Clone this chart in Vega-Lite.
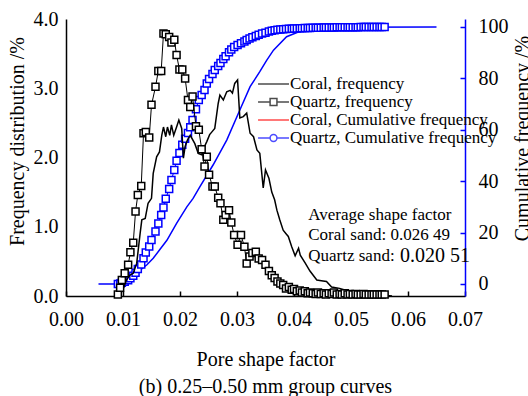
{
  "$schema": "https://vega.github.io/schema/vega-lite/v6.json",
  "width": 399,
  "height": 277,
  "autosize": {"type": "none"},
  "padding": {"left": 66, "top": 19, "right": 63, "bottom": 100},
  "background": "white",
  "config": {
    "view": {"stroke": null},
    "font": "Liberation Serif",
    "axis": {
      "labelFont": "Liberation Serif",
      "labelFontSize": 20,
      "labelColor": "black",
      "titleFont": "Liberation Serif",
      "titleFontSize": 20,
      "titleFontWeight": "normal",
      "titleColor": "black",
      "grid": false,
      "domainWidth": 1.5,
      "tickWidth": 1.5,
      "labelFlush": false,
      "labelOverlap": false
    },
    "text": {"font": "Liberation Serif"}
  },
  "title": {
    "text": "(b) 0.25–0.50 mm group curves",
    "orient": "bottom",
    "font": "Liberation Serif",
    "fontSize": 20,
    "fontWeight": "normal",
    "color": "black",
    "anchor": "middle",
    "offset": 8
  },
  "datasets": {
    "coral_freq": [
      {"factor": 0.0092, "value": 0.0}, {"factor": 0.0097, "value": 0.05}, {"factor": 0.0101, "value": 0.12},
      {"factor": 0.0106, "value": 0.23}, {"factor": 0.0112, "value": 0.30}, {"factor": 0.0118, "value": 0.33},
      {"factor": 0.0124, "value": 0.47}, {"factor": 0.0130, "value": 0.90}, {"factor": 0.0133, "value": 1.10},
      {"factor": 0.0139, "value": 1.12}, {"factor": 0.0144, "value": 1.34}, {"factor": 0.0150, "value": 1.41},
      {"factor": 0.0153, "value": 1.77}, {"factor": 0.0159, "value": 2.01}, {"factor": 0.0164, "value": 2.08},
      {"factor": 0.0168, "value": 2.32}, {"factor": 0.0171, "value": 2.44}, {"factor": 0.0175, "value": 2.30},
      {"factor": 0.0178, "value": 2.44}, {"factor": 0.0182, "value": 2.32}, {"factor": 0.0185, "value": 2.47},
      {"factor": 0.0189, "value": 2.32}, {"factor": 0.0194, "value": 2.44}, {"factor": 0.0198, "value": 2.54},
      {"factor": 0.0203, "value": 2.42}, {"factor": 0.0206, "value": 1.99}, {"factor": 0.0209, "value": 2.16},
      {"factor": 0.0213, "value": 2.25}, {"factor": 0.0218, "value": 2.32}, {"factor": 0.0226, "value": 2.20},
      {"factor": 0.0232, "value": 2.06}, {"factor": 0.0238, "value": 2.04}, {"factor": 0.0243, "value": 2.16},
      {"factor": 0.0247, "value": 2.23}, {"factor": 0.0252, "value": 2.33}, {"factor": 0.0256, "value": 2.37},
      {"factor": 0.0261, "value": 2.42}, {"factor": 0.0267, "value": 2.78}, {"factor": 0.0270, "value": 2.90},
      {"factor": 0.0276, "value": 2.83}, {"factor": 0.0282, "value": 2.95}, {"factor": 0.0288, "value": 2.97},
      {"factor": 0.0292, "value": 2.93}, {"factor": 0.0296, "value": 3.07}, {"factor": 0.0301, "value": 3.12},
      {"factor": 0.0305, "value": 2.57}, {"factor": 0.0311, "value": 2.59}, {"factor": 0.0317, "value": 2.64},
      {"factor": 0.0323, "value": 2.35}, {"factor": 0.0329, "value": 2.30}, {"factor": 0.0335, "value": 2.11},
      {"factor": 0.0340, "value": 2.06}, {"factor": 0.0346, "value": 1.56}, {"factor": 0.0350, "value": 1.82},
      {"factor": 0.0356, "value": 1.70}, {"factor": 0.0361, "value": 1.50}, {"factor": 0.0366, "value": 1.39},
      {"factor": 0.0370, "value": 1.24}, {"factor": 0.0375, "value": 1.10}, {"factor": 0.0381, "value": 0.95},
      {"factor": 0.0386, "value": 0.90}, {"factor": 0.0390, "value": 0.86}, {"factor": 0.0396, "value": 0.71},
      {"factor": 0.0402, "value": 0.58}, {"factor": 0.0408, "value": 0.69}, {"factor": 0.0411, "value": 0.59},
      {"factor": 0.0420, "value": 0.47}, {"factor": 0.0428, "value": 0.36}, {"factor": 0.0440, "value": 0.23},
      {"factor": 0.0448, "value": 0.22}, {"factor": 0.0457, "value": 0.21}, {"factor": 0.0466, "value": 0.13},
      {"factor": 0.0480, "value": 0.11}, {"factor": 0.0492, "value": 0.08}, {"factor": 0.0505, "value": 0.06},
      {"factor": 0.0516, "value": 0.05}, {"factor": 0.0534, "value": 0.03}, {"factor": 0.0555, "value": 0.015},
      {"factor": 0.0572, "value": 0.0}
    ],
    "coral_cum": [
      {"factor": 0.0057, "value": 0}, {"factor": 0.0086, "value": 0}, {"factor": 0.0095, "value": 0.8},
      {"factor": 0.0106, "value": 2.2}, {"factor": 0.0118, "value": 3.8}, {"factor": 0.0130, "value": 5.4},
      {"factor": 0.0142, "value": 7.5}, {"factor": 0.0153, "value": 10.0}, {"factor": 0.0165, "value": 13.5},
      {"factor": 0.0177, "value": 17.0}, {"factor": 0.0194, "value": 23.6}, {"factor": 0.0212, "value": 30.0},
      {"factor": 0.0223, "value": 33.3}, {"factor": 0.0235, "value": 37.9}, {"factor": 0.0258, "value": 46.3},
      {"factor": 0.0282, "value": 56.0}, {"factor": 0.0305, "value": 67.7}, {"factor": 0.0323, "value": 76.8},
      {"factor": 0.0340, "value": 82.6}, {"factor": 0.0352, "value": 87.0}, {"factor": 0.0364, "value": 91.0},
      {"factor": 0.0387, "value": 96.2}, {"factor": 0.0416, "value": 98.8}, {"factor": 0.0457, "value": 99.9},
      {"factor": 0.0650, "value": 100}
    ],
    "quartz": [
      {"factor": 0.0091, "frequency": 0.02, "cumulative": 0.0},
      {"factor": 0.0095, "frequency": 0.12, "cumulative": 0.2},
      {"factor": 0.0098, "frequency": 0.23, "cumulative": 0.5},
      {"factor": 0.0103, "frequency": 0.33, "cumulative": 0.9},
      {"factor": 0.0109, "frequency": 0.45, "cumulative": 1.5},
      {"factor": 0.0113, "frequency": 0.63, "cumulative": 2.2},
      {"factor": 0.0118, "frequency": 0.77, "cumulative": 3.2},
      {"factor": 0.0122, "frequency": 1.22, "cumulative": 4.4},
      {"factor": 0.0126, "frequency": 1.46, "cumulative": 5.8},
      {"factor": 0.0132, "frequency": 1.59, "cumulative": 7.6},
      {"factor": 0.0136, "frequency": 2.35, "cumulative": 10.0},
      {"factor": 0.0140, "frequency": 2.37, "cumulative": 12.3},
      {"factor": 0.0146, "frequency": 2.29, "cumulative": 14.6},
      {"factor": 0.0150, "frequency": 2.76, "cumulative": 17.1},
      {"factor": 0.0157, "frequency": 3.02, "cumulative": 20.4},
      {"factor": 0.0162, "frequency": 3.25, "cumulative": 23.5},
      {"factor": 0.0167, "frequency": 3.25, "cumulative": 26.8},
      {"factor": 0.0171, "frequency": 3.79, "cumulative": 29.8},
      {"factor": 0.0175, "frequency": 3.78, "cumulative": 33.2},
      {"factor": 0.0181, "frequency": 3.74, "cumulative": 37.0},
      {"factor": 0.0185, "frequency": 3.66, "cumulative": 40.5},
      {"factor": 0.0190, "frequency": 3.70, "cumulative": 44.4},
      {"factor": 0.0194, "frequency": 3.48, "cumulative": 48.0},
      {"factor": 0.0199, "frequency": 3.27, "cumulative": 51.0},
      {"factor": 0.0204, "frequency": 3.27, "cumulative": 54.2},
      {"factor": 0.0209, "frequency": 3.14, "cumulative": 56.5},
      {"factor": 0.0214, "frequency": 2.83, "cumulative": 58.8},
      {"factor": 0.0218, "frequency": 2.73, "cumulative": 61.0},
      {"factor": 0.0222, "frequency": 2.88, "cumulative": 63.8},
      {"factor": 0.0228, "frequency": 2.45, "cumulative": 68.0},
      {"factor": 0.0233, "frequency": 2.40, "cumulative": 71.6},
      {"factor": 0.0238, "frequency": 2.12, "cumulative": 73.5},
      {"factor": 0.0243, "frequency": 1.87, "cumulative": 75.5},
      {"factor": 0.0247, "frequency": 2.01, "cumulative": 78.0},
      {"factor": 0.0251, "frequency": 1.75, "cumulative": 79.8},
      {"factor": 0.0257, "frequency": 1.58, "cumulative": 81.7},
      {"factor": 0.0261, "frequency": 1.58, "cumulative": 83.3},
      {"factor": 0.0267, "frequency": 1.42, "cumulative": 84.8},
      {"factor": 0.0271, "frequency": 1.34, "cumulative": 86.0},
      {"factor": 0.0276, "frequency": 1.10, "cumulative": 87.5},
      {"factor": 0.0280, "frequency": 1.17, "cumulative": 88.6},
      {"factor": 0.0286, "frequency": 1.24, "cumulative": 90.2},
      {"factor": 0.0290, "frequency": 1.06, "cumulative": 91.2},
      {"factor": 0.0295, "frequency": 0.88, "cumulative": 92.2},
      {"factor": 0.0301, "frequency": 0.74, "cumulative": 93.0},
      {"factor": 0.0307, "frequency": 0.88, "cumulative": 93.7},
      {"factor": 0.0313, "frequency": 0.71, "cumulative": 94.4},
      {"factor": 0.0317, "frequency": 0.47, "cumulative": 94.9},
      {"factor": 0.0322, "frequency": 0.57, "cumulative": 95.5},
      {"factor": 0.0327, "frequency": 0.62, "cumulative": 96.0},
      {"factor": 0.0333, "frequency": 0.64, "cumulative": 96.5},
      {"factor": 0.0338, "frequency": 0.54, "cumulative": 97.0},
      {"factor": 0.0344, "frequency": 0.52, "cumulative": 97.5},
      {"factor": 0.0350, "frequency": 0.45, "cumulative": 97.8},
      {"factor": 0.0356, "frequency": 0.36, "cumulative": 98.2},
      {"factor": 0.0361, "frequency": 0.30, "cumulative": 98.5},
      {"factor": 0.0366, "frequency": 0.26, "cumulative": 98.7},
      {"factor": 0.0371, "frequency": 0.21, "cumulative": 98.9},
      {"factor": 0.0376, "frequency": 0.18, "cumulative": 99.0},
      {"factor": 0.0381, "frequency": 0.16, "cumulative": 99.1},
      {"factor": 0.0386, "frequency": 0.11, "cumulative": 99.2},
      {"factor": 0.0391, "frequency": 0.13, "cumulative": 99.3},
      {"factor": 0.0396, "frequency": 0.09, "cumulative": 99.35},
      {"factor": 0.0400, "frequency": 0.10, "cumulative": 99.4},
      {"factor": 0.0405, "frequency": 0.07, "cumulative": 99.45},
      {"factor": 0.0410, "frequency": 0.08, "cumulative": 99.5},
      {"factor": 0.0414, "frequency": 0.05, "cumulative": 99.55},
      {"factor": 0.0419, "frequency": 0.07, "cumulative": 99.6},
      {"factor": 0.0424, "frequency": 0.04, "cumulative": 99.62},
      {"factor": 0.0428, "frequency": 0.05, "cumulative": 99.65},
      {"factor": 0.0433, "frequency": 0.04, "cumulative": 99.68},
      {"factor": 0.0438, "frequency": 0.03, "cumulative": 99.7},
      {"factor": 0.0442, "frequency": 0.05, "cumulative": 99.72},
      {"factor": 0.0447, "frequency": 0.03, "cumulative": 99.75},
      {"factor": 0.0452, "frequency": 0.04, "cumulative": 99.77},
      {"factor": 0.0456, "frequency": 0.02, "cumulative": 99.8},
      {"factor": 0.0461, "frequency": 0.04, "cumulative": 99.82},
      {"factor": 0.0466, "frequency": 0.03, "cumulative": 99.84},
      {"factor": 0.0470, "frequency": 0.05, "cumulative": 99.85},
      {"factor": 0.0475, "frequency": 0.02, "cumulative": 99.86},
      {"factor": 0.0480, "frequency": 0.03, "cumulative": 99.87},
      {"factor": 0.0484, "frequency": 0.02, "cumulative": 99.88},
      {"factor": 0.0489, "frequency": 0.04, "cumulative": 99.89},
      {"factor": 0.0494, "frequency": 0.02, "cumulative": 99.9},
      {"factor": 0.0498, "frequency": 0.03, "cumulative": 99.91},
      {"factor": 0.0503, "frequency": 0.02, "cumulative": 99.92},
      {"factor": 0.0508, "frequency": 0.03, "cumulative": 99.93},
      {"factor": 0.0512, "frequency": 0.02, "cumulative": 99.94},
      {"factor": 0.0517, "frequency": 0.02, "cumulative": 99.95},
      {"factor": 0.0522, "frequency": 0.03, "cumulative": 99.96},
      {"factor": 0.0526, "frequency": 0.02, "cumulative": 99.97},
      {"factor": 0.0531, "frequency": 0.02, "cumulative": 99.97},
      {"factor": 0.0536, "frequency": 0.02, "cumulative": 99.98},
      {"factor": 0.0540, "frequency": 0.02, "cumulative": 99.98},
      {"factor": 0.0545, "frequency": 0.02, "cumulative": 99.99},
      {"factor": 0.0550, "frequency": 0.02, "cumulative": 99.99},
      {"factor": 0.0554, "frequency": 0.02, "cumulative": 100},
      {"factor": 0.0559, "frequency": 0.02, "cumulative": 100}
    ],
    "notes": [
      {"factor": 0.0425, "value": 1.17, "label": "Average shape factor"},
      {"factor": 0.0425, "value": 0.88, "label": "Coral sand: 0.026 49"},
      {"factor": 0.0425, "value": 0.58, "label": "Quartz sand:"}
    ],
    "notes_big": [
      {"factor": 0.0586, "value": 0.58, "label": "0.020 51"}
    ]
  },
  "resolve": {"scale": {"y": "independent"}},
  "layer": [
    {
      "layer": [
        {
          "data": {"name": "coral_cum"},
          "mark": {"type": "line", "color": "#0000ff", "strokeWidth": 1.5},
          "encoding": {
            "x": {"field": "factor", "type": "quantitative"},
            "y": {"field": "value", "type": "quantitative"}
          }
        },
        {
          "data": {"name": "quartz"},
          "mark": {"type": "line", "color": "#0000ff", "strokeWidth": 1},
          "encoding": {
            "x": {"field": "factor", "type": "quantitative"},
            "y": {"field": "cumulative", "type": "quantitative"}
          }
        },
        {
          "data": {"name": "quartz"},
          "mark": {"type": "point", "shape": "square", "size": 49, "filled": true, "fill": "white", "stroke": "#0000ff", "strokeWidth": 1.5, "opacity": 1},
          "encoding": {
            "x": {"field": "factor", "type": "quantitative"},
            "y": {
              "field": "cumulative",
              "type": "quantitative",
              "scale": {"domain": [-4.67, 103.11], "nice": false, "zero": false},
              "axis": {
                "orient": "right",
                "values": [0, 20, 40, 60, 80, 100],
                "domainColor": "#0000ff",
                "tickColor": "#0000ff",
                "tickSize": -5,
                "labelPadding": 18,
                "title": "Cumulative frequency /%",
                "titleAngle": 270,
                "titleX": 57,
                "titleY": 119,
                "titleAlign": "center",
                "titleBaseline": "middle"
              }
            }
          }
        }
      ]
    },
    {
      "layer": [
        {
          "data": {"name": "coral_freq"},
          "mark": {"type": "line", "color": "black", "strokeWidth": 1.5},
          "encoding": {
            "x": {
              "field": "factor",
              "type": "quantitative",
              "scale": {"domain": [0, 0.07], "nice": false, "zero": false},
              "axis": {
                "values": [0, 0.01, 0.02, 0.03, 0.04, 0.05, 0.06, 0.07],
                "format": ".2f",
                "domainColor": "black",
                "tickColor": "black",
                "tickSize": -5,
                "labelPadding": 18,
                "title": "Pore shape factor",
                "titlePadding": 20
              }
            },
            "y": {
              "field": "value",
              "type": "quantitative",
              "scale": {"domain": [0, 4], "nice": false},
              "axis": {
                "orient": "left",
                "values": [0, 0.5, 1, 1.5, 2, 2.5, 3, 3.5, 4],
                "format": ".1f",
                "ticks": false,
                "domainColor": "black",
                "labelPadding": 8,
                "title": "Frequency distribution /%",
                "titleAngle": 270,
                "titleX": -49,
                "titleY": 122,
                "titleAlign": "center",
                "titleBaseline": "middle"
              }
            }
          }
        },
        {
          "data": {"name": "quartz"},
          "mark": {"type": "line", "color": "black", "strokeWidth": 1},
          "encoding": {
            "x": {"field": "factor", "type": "quantitative"},
            "y": {"field": "frequency", "type": "quantitative"}
          }
        },
        {
          "data": {"name": "quartz"},
          "mark": {"type": "point", "shape": "square", "size": 49, "filled": true, "fill": "white", "stroke": "black", "strokeWidth": 1.5, "opacity": 1},
          "encoding": {
            "x": {"field": "factor", "type": "quantitative"},
            "y": {"field": "frequency", "type": "quantitative"}
          }
        },
        {
          "data": {"name": "notes"},
          "mark": {"type": "text", "align": "left", "baseline": "middle", "fontSize": 17, "color": "black"},
          "encoding": {
            "x": {"field": "factor", "type": "quantitative"},
            "y": {"field": "value", "type": "quantitative"},
            "text": {"field": "label"}
          }
        },
        {
          "data": {"name": "notes_big"},
          "mark": {"type": "text", "align": "left", "baseline": "middle", "fontSize": 20, "color": "black"},
          "encoding": {
            "x": {"field": "factor", "type": "quantitative"},
            "y": {"field": "value", "type": "quantitative"},
            "text": {"field": "label"}
          }
        },
        {
          "data": {"values": []},
          "mark": {"type": "point", "filled": false, "strokeWidth": 1.5},
          "encoding": {
            "color": {
              "field": "series",
              "type": "nominal",
              "scale": {
                "domain": ["Coral, frequency", "Quartz, frequency", "Coral, Cumulative frequency", "Quartz, Cumulative frequency"],
                "range": ["black", "black", "red", "#0000ff"]
              },
              "legend": {
                "orient": "none",
                "legendX": 204,
                "legendY": 55,
                "title": null,
                "labelFont": "Liberation Serif",
                "labelFontSize": 17,
                "labelColor": "black",
                "labelOffset": 0,
                "labelLimit": 0,
                "symbolSize": 324,
                "symbolStrokeWidth": 1.5,
                "symbolFillColor": "white",
                "rowPadding": 0
              }
            },
            "shape": {
              "field": "series",
              "type": "nominal",
              "scale": {
                "domain": ["Coral, frequency", "Quartz, frequency", "Coral, Cumulative frequency", "Quartz, Cumulative frequency"],
                "range": [
                  "M-2.44,0H1",
                  "M-2.44,0H-1.1M-0.34,0H1M-1.1,-0.38H-0.34V0.38H-1.1Z",
                  "M-2.44,0H1",
                  "M-2.44,0H-1.1M-0.34,0H1M-1.1,0A0.38,0.38,0,1,0,-0.34,0A0.38,0.38,0,1,0,-1.1,0Z"
                ]
              }
            }
          }
        }
      ]
    }
  ]
}
